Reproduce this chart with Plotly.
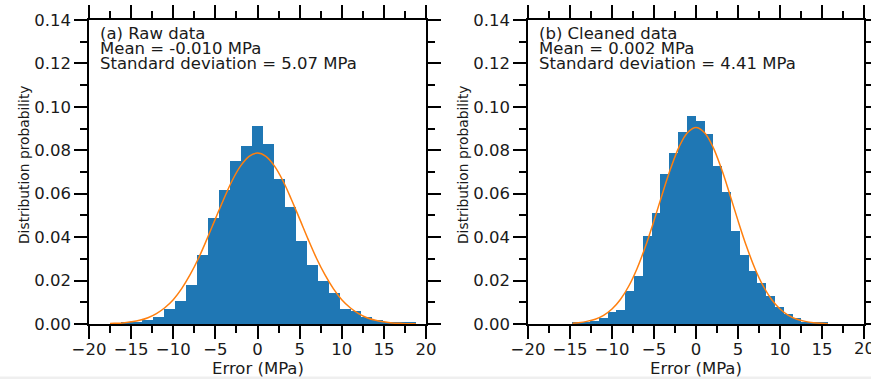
import plotly.graph_objects as go

# ---------------- data ----------------
raw_bin_start = -17.56
raw_bin_width = 1.30
raw_heights = [0.0002, 0.0007, 0.0010, 0.0020, 0.0033, 0.0067, 0.0108, 0.0178,
               0.0320, 0.0487, 0.0617, 0.0752, 0.0820, 0.0912, 0.0827, 0.0668,
               0.0537, 0.0380, 0.0272, 0.0200, 0.0141, 0.0068, 0.0058, 0.0030,
               0.0018, 0.0009, 0.0008, 0.0005]

clean_bin_start = -14.72
clean_bin_width = 1.049
clean_heights = [0.0009, 0.0006, 0.0012, 0.0028, 0.0055, 0.0066, 0.0154, 0.0220,
                 0.0406, 0.0512, 0.0690, 0.0788, 0.0883, 0.0957, 0.0934, 0.0877,
                 0.0726, 0.0606, 0.0428, 0.0318, 0.0242, 0.0188, 0.0129, 0.0080,
                 0.0045, 0.0028, 0.0011, 0.0008, 0.0005]

raw_curve_x = [-17.5, -17, -16, -15, -14, -13, -12, -11, -10, -9, -8, -7, -6, -5, -4,
               -3, -2, -1, 0, 1, 2, 3, 4, 5, 6, 7, 8, 9, 10, 11, 12, 13, 14, 15, 16,
               17, 18, 18.8]
raw_curve_y = [0.0002, 0.0003, 0.0005, 0.0010, 0.0017, 0.0029, 0.0048, 0.0075, 0.0112,
               0.0163, 0.0227, 0.0303, 0.0391, 0.0484, 0.0576, 0.0661, 0.0728, 0.0772,
               0.0787, 0.0772, 0.0728, 0.0661, 0.0576, 0.0484, 0.0391, 0.0303, 0.0227,
               0.0163, 0.0112, 0.0075, 0.0048, 0.0029, 0.0017, 0.0010, 0.0005, 0.0003,
               0.00014, 0.0001]

clean_curve_x = [-14.7, -14, -13, -12, -11, -10, -9, -8, -7, -6, -5, -4, -3, -2, -1, 0,
                 1, 2, 3, 4, 5, 6, 7, 8, 9, 10, 11, 12, 13, 14, 15, 15.7]
clean_curve_y = [0.00035, 0.0006, 0.0012, 0.0022, 0.0040, 0.0069, 0.0113, 0.0175,
                 0.0257, 0.0359, 0.0476, 0.0600, 0.0718, 0.0817, 0.0882, 0.0905,
                 0.0882, 0.0817, 0.0718, 0.0600, 0.0476, 0.0359, 0.0257, 0.0175,
                 0.0113, 0.0069, 0.0040, 0.0022, 0.0012, 0.0006, 0.0003, 0.00016]

panel_texts = [["(a) Raw data", "Mean = -0.010 MPa", "Standard deviation = 5.07 MPa"],
               ["(b) Cleaned data", "Mean = 0.002 MPa", "Standard deviation = 4.41 MPa"]]
x_title = "Error (MPa)"
y_title = "Distribution probability"
clipped_tick_label = "20"   # last x tick label of panel (b), cut by the image edge

# ---------------- figure ----------------
W, H = 871, 379
FONT = "DejaVu Sans"
BLUE = "#1f77b4"
ORANGE = "#ff7f0e"
TXT = "#1a1a1a"

fig = go.Figure()

def centers(start, width, n):
    return [start + width * (i + 0.5) for i in range(n)]

fig.add_trace(go.Bar(x=centers(raw_bin_start, raw_bin_width, len(raw_heights)),
                     y=raw_heights, width=raw_bin_width, marker_color=BLUE,
                     marker_line_width=0, xaxis="x", yaxis="y", showlegend=False))
fig.add_trace(go.Scatter(x=raw_curve_x, y=raw_curve_y, mode="lines",
                         line=dict(color=ORANGE, width=1.5, shape="spline"),
                         xaxis="x", yaxis="y", showlegend=False))
fig.add_trace(go.Bar(x=centers(clean_bin_start, clean_bin_width, len(clean_heights)),
                     y=clean_heights, width=clean_bin_width, marker_color=BLUE,
                     marker_line_width=0, xaxis="x2", yaxis="y2", showlegend=False))
fig.add_trace(go.Scatter(x=clean_curve_x, y=clean_curve_y, mode="lines",
                         line=dict(color=ORANGE, width=1.5, shape="spline"),
                         xaxis="x2", yaxis="y2", showlegend=False))

left_dom = [89 / W, 426 / W]
right_dom = [528 / W, 864 / W]
y_dom = [(H - 324) / H, (H - 20) / H]

tickfont = dict(family=FONT, size=16.5, color=TXT)

def xax(dom, anchor):
    return dict(domain=dom, anchor=anchor, range=[-20, 20], tickmode="linear",
                tick0=-20, dtick=5, ticks="outside", ticklen=13, tickwidth=1.5,
                tickcolor="black", showline=True, linewidth=1.5, linecolor="black",
                mirror="ticks", showgrid=False, zeroline=False, tickfont=tickfont,
                automargin=False, ticklabelstandoff=-4,
                minor=dict(tick0=-20, dtick=2.5, ticks="outside", ticklen=7,
                           tickwidth=1.5, tickcolor="black", showgrid=False))

def yax(anchor):
    return dict(domain=y_dom, anchor=anchor, range=[0, 0.14], tickmode="linear",
                tick0=0, dtick=0.02, tickformat=".2f", ticks="outside", ticklen=13,
                tickwidth=1.5, tickcolor="black", showline=True, linewidth=1.5,
                linecolor="black", mirror="ticks", showgrid=False, zeroline=False,
                tickfont=tickfont, automargin=False,
                minor=dict(tick0=0, dtick=0.01, ticks="outside", ticklen=7,
                           tickwidth=1.5, tickcolor="black", showgrid=False))

annotations = []
for k, (x0, ytx) in enumerate([(98, 24), (537, 463)]):
    for j, line in enumerate(panel_texts[k]):
        annotations.append(dict(text=line, xref="paper", yref="paper",
                                x=x0 / W, y=1 - (33 + 15 * j) / H,
                                xanchor="left", yanchor="middle", showarrow=False,
                                font=dict(family=FONT, size=16.5, color=TXT)))
    annotations.append(dict(text=y_title, xref="paper", yref="paper",
                            x=ytx / W, y=1 - 165 / H, textangle=-90,
                            xanchor="center", yanchor="middle", showarrow=False,
                            font=dict(family=FONT, size=13.8, color=TXT)))
for xc in [258, 696]:
    annotations.append(dict(text=x_title, xref="paper", yref="paper",
                            x=xc / W, y=1 - 368 / H, xanchor="center",
                            yanchor="middle", showarrow=False,
                            font=dict(family=FONT, size=16.5, color=TXT)))
# tick label at x=20 of panel (b), which plotly drops because it crosses the edge
annotations.append(dict(text=clipped_tick_label, xref="x2", yref="paper", x=20,
                        y=1 - 348 / H, xanchor="center", yanchor="middle",
                        showarrow=False, font=tickfont))

fig.update_layout(
    width=W, height=H, margin=dict(l=0, r=0, t=0, b=0, autoexpand=False),
    paper_bgcolor="white", plot_bgcolor="white", bargap=0,
    xaxis=xax(left_dom, "y"), yaxis=yax("x"),
    xaxis2=xax(right_dom, "y2"), yaxis2=yax("x2"),
    annotations=annotations,
    shapes=[dict(type="rect", xref="paper", yref="paper", x0=0, x1=1,
                 y0=0, y1=2.5 / H, fillcolor="#efefef", line_width=0,
                 layer="below")],
)

fig.write_html("out.html")
